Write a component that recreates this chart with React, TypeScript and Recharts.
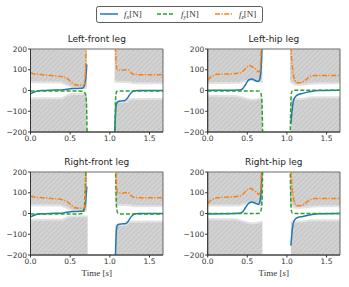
import React from 'react';
import { ComposedChart, Line, Area, XAxis, YAxis, ReferenceArea } from 'recharts';

type Pt = [number, number | null];

// time [s] / force [N] pairs, null = swing phase gap
const lfFx: Pt[] = [[0, -15], [0.03, -10], [0.08, -3], [0.15, 0], [0.3, 2], [0.42, 4], [0.5, 8], [0.6, 10], [0.66, 12], [0.69, 40], [0.71, 126], [0.85, null], [1.06, -210], [1.08, -70], [1.1, -54], [1.15, -50], [1.19, -48], [1.22, -38], [1.26, -15], [1.3, -2], [1.35, 0], [1.67, 0]];
const lfFy: Pt[] = [[0, -3], [0.3, -2], [0.6, -2], [0.66, -4], [0.69, -15], [0.705, -60], [0.715, -250], [0.85, null], [1.065, -250], [1.075, -20], [1.09, -4], [1.12, -2], [1.67, -2]];
const lfFz: Pt[] = [[0, 84], [0.05, 80], [0.15, 76], [0.3, 71], [0.4, 66], [0.46, 59], [0.5, 45], [0.54, 32], [0.58, 26], [0.65, 25], [0.68, 30], [0.695, 120], [0.705, 300], [0.85, null], [1.065, 300], [1.08, 130], [1.095, 100], [1.15, 97], [1.2, 100], [1.23, 100], [1.27, 85], [1.3, 78], [1.4, 76], [1.67, 76]];
const lfUp: Pt[] = [[0, 40], [0.38, 38], [0.46, 28], [0.52, 15], [0.6, 12], [0.71, 12], [0.85, null], [1.06, 42], [1.25, 40], [1.3, 35], [1.67, 35]];
const lfLo: Pt[] = [[0, -37], [0.4, -37], [0.47, -22], [0.52, -17], [0.71, -17], [0.85, null], [1.06, -55], [1.2, -55], [1.25, -42], [1.67, -40]];

const lhFx: Pt[] = [[0, 1], [0.2, 1], [0.4, 2], [0.44, 8], [0.48, 30], [0.52, 52], [0.56, 55], [0.6, 48], [0.64, 44], [0.66, 60], [0.68, 150], [0.69, 260], [0.85, null], [1.05, -160], [1.07, -80], [1.09, -40], [1.12, -25], [1.2, -14], [1.3, -5], [1.4, 0], [1.67, 1]];
const lhFy: Pt[] = [[0, -2], [0.6, -2], [0.65, -3], [0.67, -12], [0.685, -60], [0.695, -250], [0.85, null], [1.04, -250], [1.055, -15], [1.07, 0], [1.1, 1], [1.67, 1]];
const lhFz: Pt[] = [[0, 50], [0.03, 62], [0.07, 72], [0.12, 78], [0.3, 80], [0.4, 85], [0.45, 95], [0.5, 115], [0.53, 120], [0.57, 112], [0.61, 102], [0.64, 90], [0.66, 95], [0.675, 200], [0.685, 300], [0.85, null], [1.04, 300], [1.06, 150], [1.08, 80], [1.1, 50], [1.13, 37], [1.18, 38], [1.22, 45], [1.26, 58], [1.3, 70], [1.35, 72], [1.67, 72]];
const lhUp: Pt[] = [[0, 35], [0.4, 37], [0.47, 45], [0.55, 52], [0.62, 45], [0.69, 40], [0.85, null], [1.04, 45], [1.1, 28], [1.2, 28], [1.3, 33], [1.4, 35], [1.67, 35]];
const lhLo: Pt[] = [[0, -25], [0.35, -26], [0.45, -35], [0.55, -45], [0.63, -42], [0.69, -35], [0.85, null], [1.05, -40], [1.2, -40], [1.3, -33], [1.67, -33]];

const rfFx: Pt[] = [[0, -16], [0.03, -11], [0.08, -4], [0.15, -1], [0.3, 1], [0.42, 3], [0.5, 8], [0.6, 10], [0.66, 12], [0.69, 40], [0.71, 130], [0.85, null], [1.07, -210], [1.085, -70], [1.1, -54], [1.15, -50], [1.2, -48], [1.23, -38], [1.27, -15], [1.31, -2], [1.36, 0], [1.67, 0]];
const rfFy: Pt[] = [[0, -2], [0.6, -2], [0.65, 0], [0.67, 10], [0.685, 60], [0.7, 250], [0.85, null], [1.07, 250], [1.085, 30], [1.1, 2], [1.12, -2], [1.67, -2]];
const rfFz: Pt[] = [[0, 83], [0.05, 79], [0.15, 76], [0.3, 71], [0.4, 66], [0.46, 58], [0.5, 45], [0.54, 32], [0.58, 26], [0.65, 25], [0.68, 30], [0.695, 120], [0.705, 300], [0.85, null], [1.07, 300], [1.085, 130], [1.1, 100], [1.15, 97], [1.2, 100], [1.23, 101], [1.27, 86], [1.3, 78], [1.4, 76], [1.67, 76]];
const rfUp: Pt[] = [[0, 40], [0.38, 38], [0.46, 28], [0.52, 15], [0.6, 12], [0.71, 12], [0.85, null], [1.07, 42], [1.25, 40], [1.3, 35], [1.67, 35]];
const rfLo: Pt[] = [[0, -30], [0.4, -30], [0.47, -18], [0.52, -13], [0.72, -13], [0.85, null], [1.07, -55], [1.2, -55], [1.25, -40], [1.67, -38]];

const rhFx: Pt[] = [[0, -2], [0.2, -1], [0.4, 1], [0.44, 8], [0.48, 30], [0.52, 50], [0.56, 55], [0.6, 50], [0.64, 44], [0.66, 60], [0.68, 150], [0.69, 260], [0.85, null], [1.05, -155], [1.07, -70], [1.09, -35], [1.12, -22], [1.2, -14], [1.3, -6], [1.4, -1], [1.67, 0]];
const rhFy: Pt[] = [[0, 0], [0.6, 0], [0.65, 1], [0.67, 10], [0.685, 60], [0.695, 250], [0.85, null], [1.04, 250], [1.055, 15], [1.07, 1], [1.1, 0], [1.67, 0]];
const rhFz: Pt[] = [[0, 48], [0.03, 60], [0.07, 70], [0.12, 76], [0.3, 80], [0.4, 84], [0.45, 95], [0.5, 115], [0.54, 120], [0.58, 112], [0.62, 100], [0.65, 92], [0.67, 110], [0.68, 300], [0.85, null], [1.045, 300], [1.06, 150], [1.08, 80], [1.1, 50], [1.13, 37], [1.18, 38], [1.22, 45], [1.26, 58], [1.3, 68], [1.35, 72], [1.67, 72]];
const rhUp: Pt[] = [[0, 38], [0.4, 38], [0.47, 46], [0.55, 55], [0.62, 46], [0.69, 40], [0.85, null], [1.04, 45], [1.1, 28], [1.2, 28], [1.3, 33], [1.4, 35], [1.67, 35]];
const rhLo: Pt[] = [[0, -28], [0.35, -28], [0.45, -38], [0.55, -48], [0.63, -45], [0.69, -38], [0.85, null], [1.05, -38], [1.2, -38], [1.3, -33], [1.67, -33]];

const yTicks = [-200, -100, 0, 100, 200];
const xTicks = [0, 0.5, 1, 1.5];

const BLUE = '#1f77b4';
const GREEN = '#2ca02c';
const ORANGE = '#ff7f0e';

const toLine = (pts: Pt[]) => pts.map(([t, v]) => ({ t, v }));
const toUpper = (pts: Pt[]) => pts.map(([t, v]) => ({ t, v: v === null ? null : [v, 200] }));
const toLower = (pts: Pt[]) => pts.map(([t, v]) => ({ t, v: v === null ? null : [-200, v] }));

const fmtY = (v: number) => String(v).replace('-', '\u2212');
const fmtX = (v: number) => v.toFixed(1);

const tickStyle = { fontSize: 7.5, fill: '#333', fontFamily: 'DejaVu Sans' };

interface PanelProps {
  id: string;
  title: string;
  left: number;
  top: number;
  yw: number;
  mr: number;
  fx: Pt[];
  fy: Pt[];
  fz: Pt[];
  up: Pt[];
  lo: Pt[];
  time?: boolean;
}

const Panel = ({ id, title, left, top, yw, mr, fx, fy, fz, up, lo, time }: PanelProps) => {
  const W = 175;
  const H = 120;
  const plotCx = yw + (W - yw - mr) / 2;
  return (
    <div style={{ position: 'absolute', left, top, width: W, height: H }}>
      <div style={{ position: 'absolute', left: plotCx - 60, width: 120, top: 3, textAlign: 'center', fontSize: 9, color: '#222', fontFamily: 'DejaVu Sans', lineHeight: '12px' }}>
        {title}
      </div>
      <ComposedChart width={W} height={H} margin={{ top: 19, right: mr, left: 0, bottom: 0 }}>
        <defs>
          <pattern id={id} width="3.5" height="3.5" patternUnits="userSpaceOnUse" patternTransform="rotate(45)">
            <rect width="3.5" height="3.5" fill="#d2d2d2" />
            <line x1="0" y1="0" x2="0" y2="3.5" stroke="#b8b8b8" strokeWidth="1" />
          </pattern>
        </defs>
        <XAxis dataKey="t" type="number" domain={[0, 1.67]} ticks={xTicks} tickFormatter={fmtX} allowDataOverflow height={18} tick={tickStyle} tickSize={2.5} tickMargin={1} stroke="#333" />
        <YAxis type="number" domain={[-200, 200]} ticks={yTicks} tickFormatter={fmtY} allowDataOverflow width={yw} tick={tickStyle} tickSize={2.5} tickMargin={1} stroke="#333" />
        <Area data={toUpper(up)} dataKey="v" type="linear" stroke="#e2e2e2" strokeWidth={2} fill={`url(#${id})`} fillOpacity={1} isAnimationActive={false} />
        <Area data={toLower(lo)} dataKey="v" type="linear" stroke="#e2e2e2" strokeWidth={2} fill={`url(#${id})`} fillOpacity={1} isAnimationActive={false} />
        <Line data={toLine(fx)} dataKey="v" type="monotone" stroke={BLUE} strokeWidth={1.5} dot={false} isAnimationActive={false} />
        <Line data={toLine(fy)} dataKey="v" type="monotone" stroke={GREEN} strokeWidth={1.5} strokeDasharray="4 2" dot={false} isAnimationActive={false} />
        <Line data={toLine(fz)} dataKey="v" type="monotone" stroke={ORANGE} strokeWidth={1.5} strokeDasharray="5 1.5 1.2 1.5" dot={false} isAnimationActive={false} />
        <ReferenceArea x1={0} x2={1.67} y1={-200} y2={200} fill="none" stroke="#444" strokeWidth={0.8} ifOverflow="visible" />
      </ComposedChart>
      {time && (
        <div style={{ position: 'absolute', left: plotCx - 40, width: 80, top: 115, textAlign: 'center', fontSize: 9, color: '#333', fontFamily: 'Liberation Serif' }}>
          Time [<i>s</i>]
        </div>
      )}
    </div>
  );
};

const LegendItem = ({ x, color, dash, sub }: { x: number; color: string; dash?: string; sub: string }) => (
  <g>
    <line x1={x} y1={8} x2={x + 18} y2={8} stroke={color} strokeWidth={1.5} strokeDasharray={dash} />
    <text x={x + 24} y={11} fontSize={9} fontFamily="Liberation Serif" fill="#333">
      <tspan fontStyle="italic">f</tspan>
      <tspan fontStyle="italic" fontSize={6} dy={1.5}>{sub}</tspan>
      <tspan dy={-1.5}>[N]</tspan>
    </text>
  </g>
);

export default function App() {
  return (
    <div style={{ position: 'absolute', left: 0, top: 0, width: 349, height: 287, background: '#fff' }}>
      <svg style={{ position: 'absolute', left: 96, top: 6 }} width={167} height={17}>
        <rect x={0.5} y={0.5} width={166} height={16} rx={2} fill="#fff" stroke="#333" strokeWidth={0.8} />
        <LegendItem x={4} color={BLUE} sub="x" />
        <LegendItem x={61} color={GREEN} dash="4 2" sub="y" />
        <LegendItem x={119} color={ORANGE} dash="5 1.5 1.2 1.5" sub="z" />
      </svg>
      <Panel id="hLF" title="Left-front leg" left={0} top={30} yw={30.5} mr={12} fx={lfFx} fy={lfFy} fz={lfFz} up={lfUp} lo={lfLo} />
      <Panel id="hLH" title="Left-hip leg" left={175} top={30} yw={32.7} mr={10} fx={lhFx} fy={lhFy} fz={lhFz} up={lhUp} lo={lhLo} />
      <Panel id="hRF" title="Right-front leg" left={0} top={153} yw={30.5} mr={12} fx={rfFx} fy={rfFy} fz={rfFz} up={rfUp} lo={rfLo} time />
      <Panel id="hRH" title="Right-hip leg" left={175} top={153} yw={32.7} mr={10} fx={rhFx} fy={rhFy} fz={rhFz} up={rhUp} lo={rhLo} time />
    </div>
  );
}
